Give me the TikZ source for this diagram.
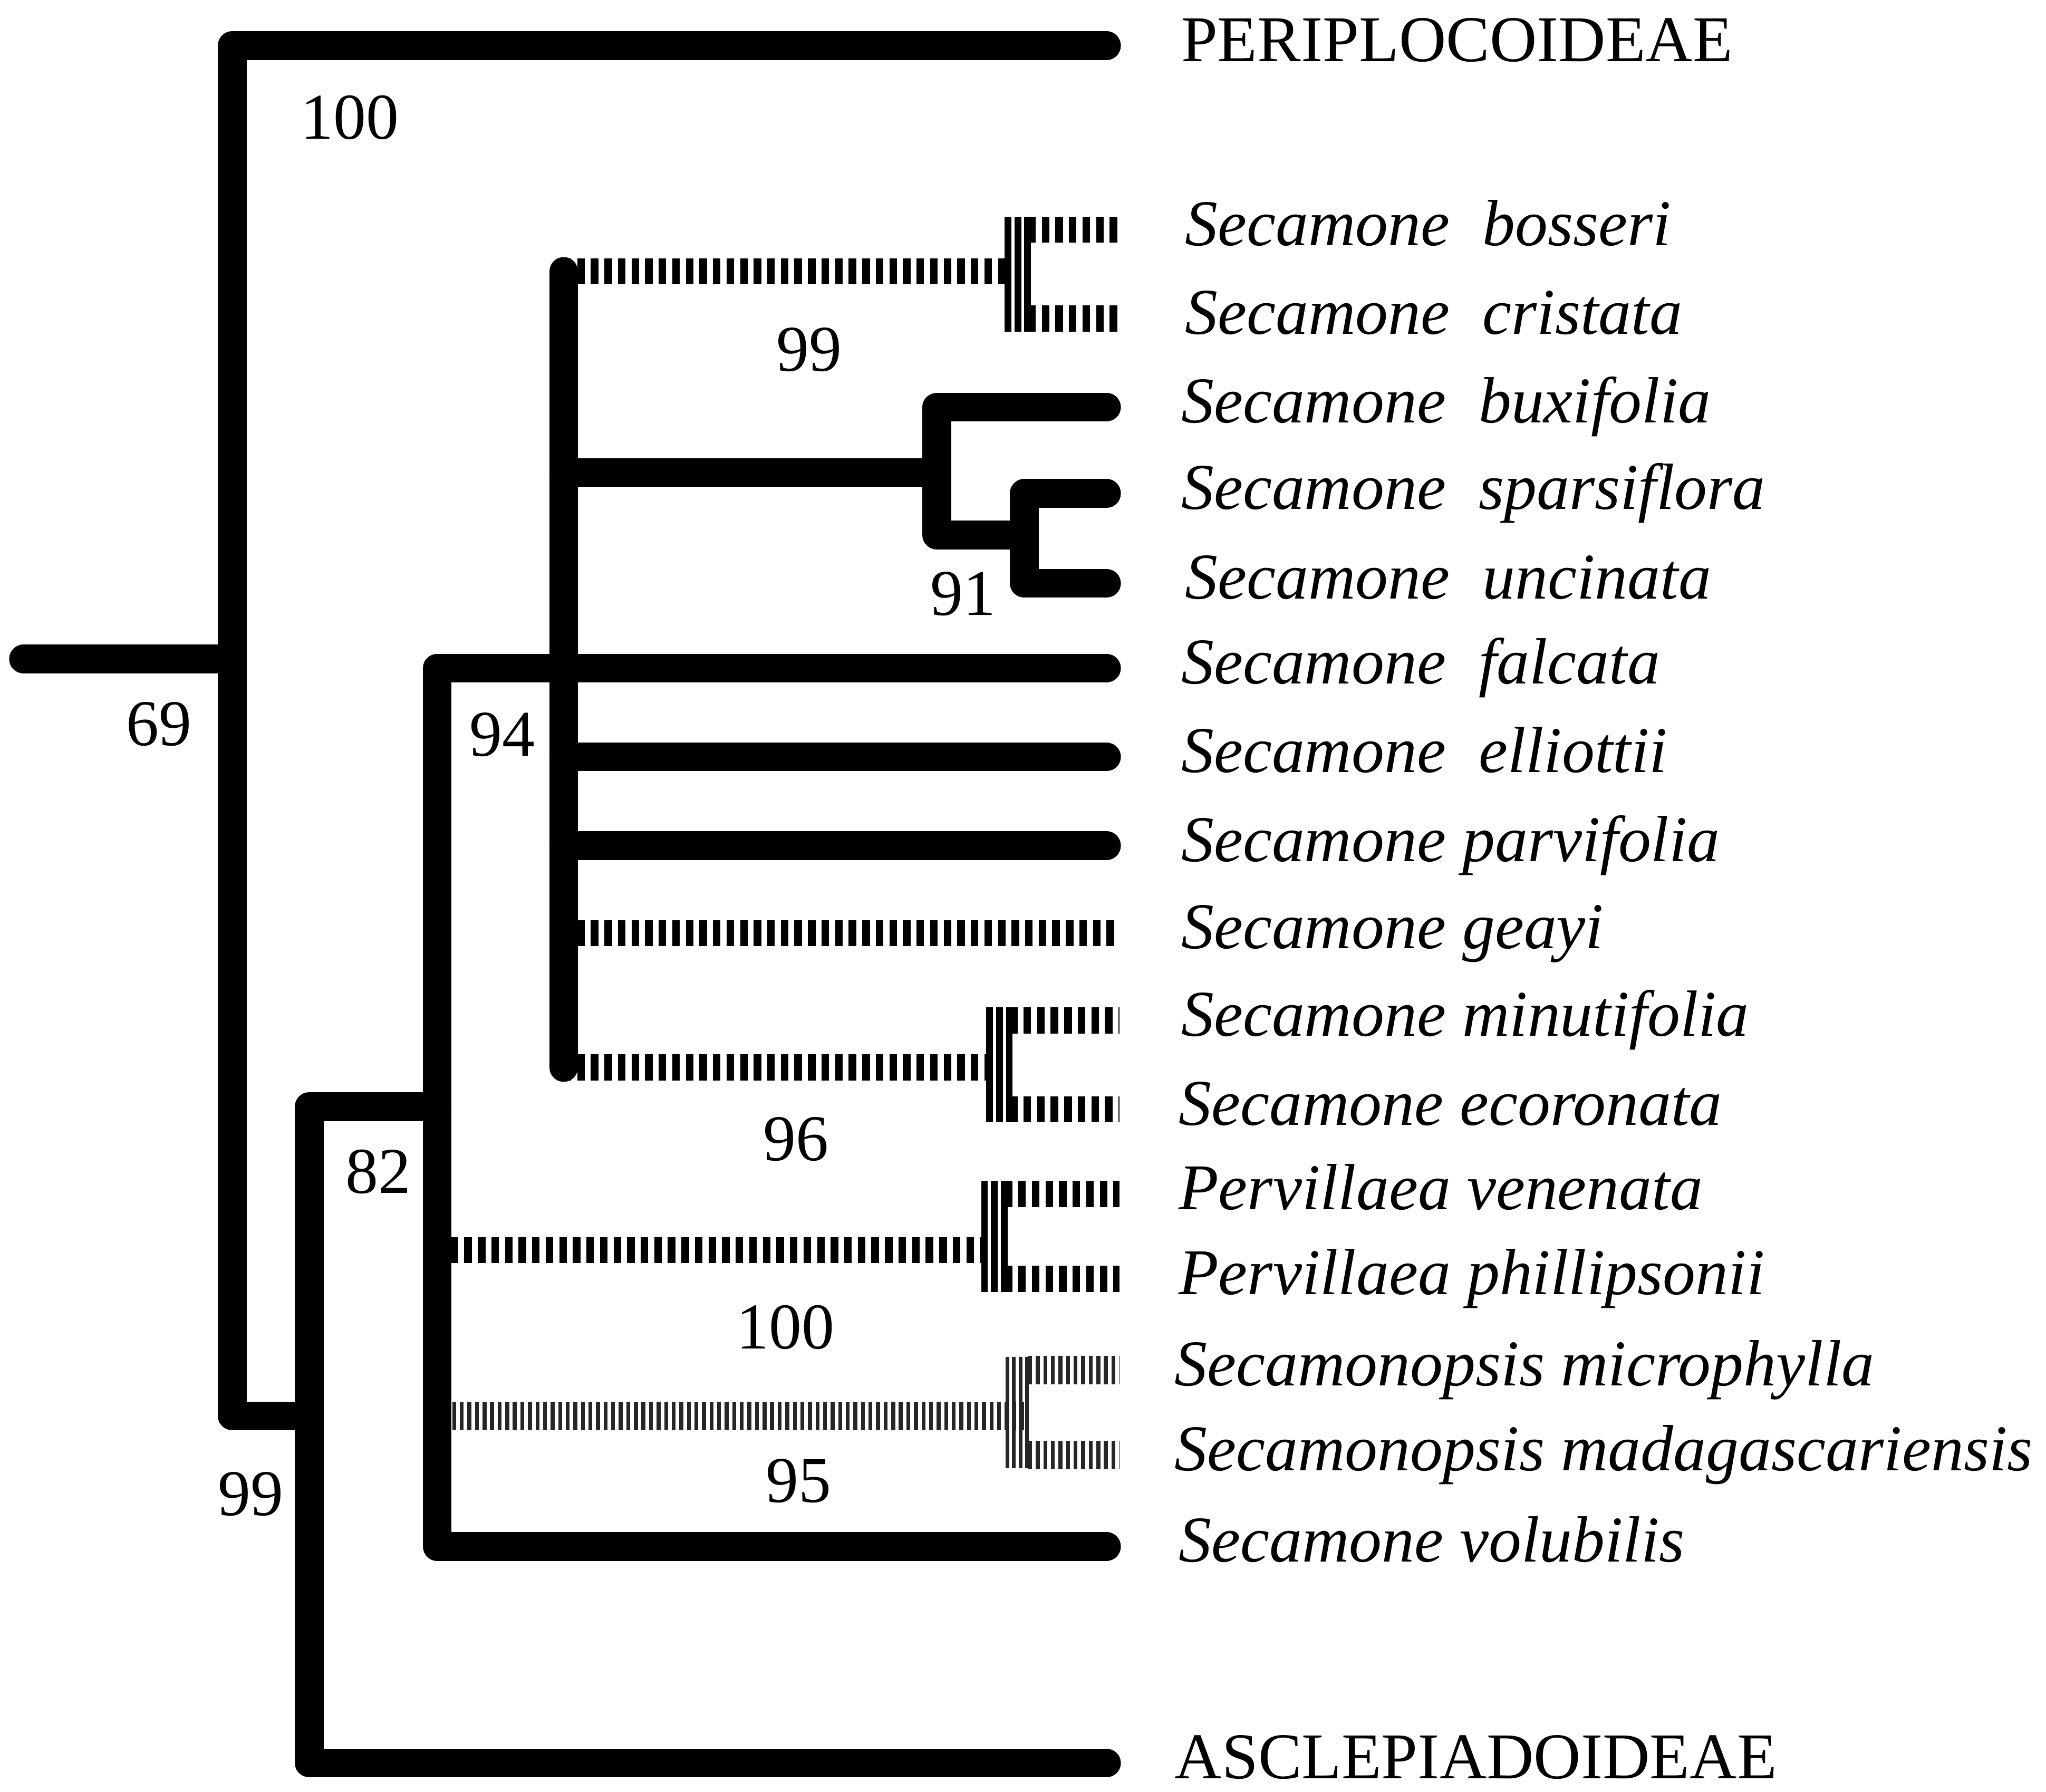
\documentclass[tikz,border=0pt]{standalone}
\usepackage{fontspec}
\setmainfont{Liberation Serif}
\usetikzlibrary{positioning,calc}
\newcommand\treefont{\fontsize{35.6}{40}\selectfont}

\tikzset{
  branch/.style={line width=5.5mm, line cap=round, line join=round},
  hatch/.style={line width=5mm, dash pattern=on 1.45mm off 1.15mm},
  finehatch/.style={line width=5.5mm, dash pattern=on 0.75mm off 0.7mm, black!85},
  stripe/.style={line width=1.3mm},
  finestripe/.style={line width=0.7mm, black!85},
  taxon/.style={anchor=base west, inner sep=0pt, font=\treefont\itshape},
  support/.style={inner sep=0pt}
}

\begin{document}
\begin{tikzpicture}[x=0.25mm, y=-0.25mm, font=\treefont]
  \useasboundingbox (0,0) rectangle (1568,1373);

  % clades
  \coordinate (root) at (18,505);
  \coordinate (n69) at (178,505);
  \coordinate (n99) at (237,1085);
  \coordinate (n82) at (335,848);
  \coordinate (n94) at (432,512);
  \coordinate (c99) at (770,208);
  \coordinate (b91) at (718,362);
  \coordinate (c91) at (785,410);
  \coordinate (c96) at (756,818);
  \coordinate (c100) at (752,958);
  \coordinate (c95) at (770,1085);

  % tips and names
  \foreach \name/\tx/\ty/\lx/\taxon in {
    peri/848/35/905/{\upshape PERIPLOCOIDEAE},
    bosseri/858/176/908/Secamone\ \ bosseri,
    cristata/858/244/908/Secamone\ \ cristata,
    buxifolia/848/312/905/Secamone\ \ buxifolia,
    sparsiflora/848/378/905/Secamone\ \ sparsiflora,
    uncinata/848/447/908/Secamone\ \ uncinata,
    falcata/848/512/905/Secamone\ \ falcata,
    elliottii/848/580/905/Secamone\ \ elliottii,
    parvifolia/848/648/905/Secamone parvifolia,
    geayi/858/715/905/Secamone geayi,
    minutifolia/858/782/905/Secamone minutifolia,
    ecoronata/858/850/903/Secamone ecoronata,
    venenata/858/915/903/Pervillaea venenata,
    phillipsonii/858/980/903/Pervillaea phillipsonii,
    microphylla/858/1050/900/Secamonopsis microphylla,
    madagascariensis/858/1115/900/Secamonopsis madagascariensis,
    volubilis/848/1185/903/Secamone volubilis,
    ascl/848/1351/900/{\upshape ASCLEPIADOIDEAE}} {
    \coordinate (\name) at (\tx,\ty);
    \node[taxon] (l-\name) at (\lx,\ty+12) {\taxon};
  }

  % hatched branches
  \draw[hatch] (n94 |- c99) -- (c99);
  \foreach \t in {bosseri,cristata}
    \draw[hatch] ($(c99 |- \t)+(18,0)$) -- (\t);
  \foreach \dx in {2.5,10,17.5}
    \draw[stripe] ($(c99 |- bosseri)+(\dx,-10)$) -- ($(c99 |- cristata)+(\dx,10)$);

  \draw[hatch] (n94 |- geayi) -- (geayi);

  \draw[hatch] (n94 |- c96) -- (c96);
  \foreach \t in {minutifolia,ecoronata}
    \draw[hatch] ($(c96 |- \t)+(18,0)$) -- (\t);
  \foreach \dx in {2.5,10,17.5}
    \draw[stripe] ($(c96 |- minutifolia)+(\dx,-10)$) -- ($(c96 |- ecoronata)+(\dx,10)$);

  \draw[hatch] (n82 |- c100) -- (c100);
  \foreach \t in {venenata,phillipsonii}
    \draw[hatch] ($(c100 |- \t)+(18,0)$) -- (\t);
  \foreach \dx in {2.5,10,17.5}
    \draw[stripe] ($(c100 |- venenata)+(\dx,-10)$) -- ($(c100 |- phillipsonii)+(\dx,10)$);

  \draw[finehatch] (n82 |- c95) -- ($(c95)+(18,0)$);
  \foreach \t in {microphylla,madagascariensis}
    \draw[finehatch] ($(c95 |- \t)+(18,0)$) -- (\t);
  \foreach \dx in {2,7,12,17}
    \draw[finestripe] ($(c95 |- microphylla)+(\dx,-10)$) -- ($(c95 |- madagascariensis)+(\dx,10)$);

  % solid branches
  \draw[branch] (root) -- (n69);
  \draw[branch] (n69) |- (peri);
  \draw[branch] (n69) |- (n99);
  \draw[branch] (n99) |- (n82);
  \draw[branch] (n99) |- (ascl);
  \draw[branch] (n82) |- (n94);
  \draw[branch] (n82) |- (volubilis);
  \draw[branch] (n94 |- c99) -- (n94 |- c96);
  \draw[branch] (n94 |- b91) -- (b91) |- (buxifolia);
  \draw[branch] (b91) |- (c91);
  \draw[branch] (c91) |- (sparsiflora);
  \draw[branch] (c91) |- (uncinata);
  \draw[branch] (n94) -- (falcata);
  \draw[branch] (n94 |- elliottii) -- (elliottii);
  \draw[branch] (n94 |- parvifolia) -- (parvifolia);

  % bootstrap values
  \node[support] (bs-peri) at (268,90) {100};
  \node[support] (bs69) at (122,555) {69};
  \node[support] (bs99a) at (620,268) {99};
  \node[support] (bs91) at (738,455) {91};
  \node[support] (bs94) at (385,563) {94};
  \node[support] (bs96) at (610,873) {96};
  \node[support] (bs82) at (290,898) {82};
  \node[support] (bs100) at (602,1017) {100};
  \node[support] (bs95) at (612,1135) {95};
  \node[support] (bs99b) at (192,1145) {99};
\end{tikzpicture}
\end{document}
